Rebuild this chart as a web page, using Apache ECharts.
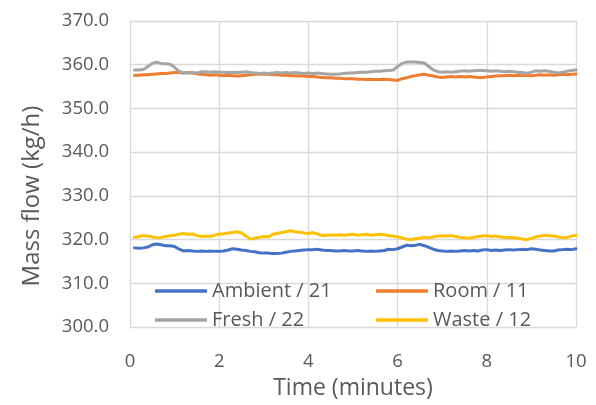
<!DOCTYPE html>
<html>
<head>
<meta charset="utf-8">
<script src="https://cdn.jsdelivr.net/npm/echarts@6/dist/echarts.min.js"></script>
<style>
html,body{margin:0;padding:0;background:#fff;}
#chart{width:596px;height:405px;}
</style>
</head>
<body>
<div id="chart"></div>
<script>
// Time (minutes)
const time = [
  0.1,0.2,0.3,0.4,0.5,0.6,0.7,0.8,0.9,1.0,
  1.1,1.2,1.3,1.4,1.5,1.6,1.7,1.8,1.9,2.0,
  2.1,2.2,2.3,2.4,2.5,2.6,2.7,2.8,2.9,3.0,
  3.1,3.2,3.3,3.4,3.5,3.6,3.7,3.8,3.9,4.0,
  4.1,4.2,4.3,4.4,4.5,4.6,4.7,4.8,4.9,5.0,
  5.1,5.2,5.3,5.4,5.5,5.6,5.7,5.8,5.9,6.0,
  6.1,6.2,6.3,6.4,6.5,6.6,6.7,6.8,6.9,7.0,
  7.1,7.2,7.3,7.4,7.5,7.6,7.7,7.8,7.9,8.0,
  8.1,8.2,8.3,8.4,8.5,8.6,8.7,8.8,8.9,9.0,
  9.1,9.2,9.3,9.4,9.5,9.6,9.7,9.8,9.9,10.0
];
const ambient = [
  318.1,318.0,318.1,318.3,318.8,319.0,318.8,318.6,318.6,318.4,
  317.8,317.4,317.5,317.4,317.3,317.4,317.3,317.4,317.3,317.3,
  317.4,317.6,317.9,317.8,317.6,317.5,317.3,317.2,317.0,316.9,
  316.9,316.8,316.8,316.9,317.1,317.3,317.4,317.5,317.6,317.7,
  317.7,317.8,317.6,317.5,317.5,317.4,317.4,317.5,317.4,317.4,
  317.5,317.4,317.3,317.4,317.3,317.4,317.5,317.8,317.7,317.9,
  318.3,318.7,318.6,318.7,318.9,318.6,318.2,317.8,317.5,317.4,
  317.3,317.4,317.3,317.4,317.5,317.4,317.5,317.4,317.6,317.7,
  317.5,317.6,317.5,317.6,317.7,317.6,317.7,317.8,317.7,317.9,
  317.8,317.6,317.5,317.4,317.4,317.6,317.7,317.8,317.7,317.9
];
const room = [
  357.6,357.6,357.7,357.7,357.8,357.9,358.0,358.0,358.1,358.2,
  358.2,358.1,358.2,358.1,357.9,357.8,357.7,357.6,357.7,357.6,
  357.5,357.6,357.5,357.4,357.5,357.6,357.7,357.8,357.9,357.8,
  357.8,357.7,357.7,357.6,357.6,357.5,357.5,357.4,357.4,357.3,
  357.3,357.2,357.1,357.0,357.0,356.9,356.9,356.8,356.8,356.8,
  356.7,356.7,356.6,356.7,356.6,356.6,356.7,356.6,356.5,356.4,
  356.8,357.0,357.3,357.5,357.7,357.8,357.6,357.4,357.2,357.1,
  357.2,357.3,357.2,357.3,357.2,357.3,357.2,357.1,357.1,357.2,
  357.3,357.4,357.5,357.5,357.6,357.5,357.6,357.5,357.6,357.5,
  357.6,357.7,357.6,357.7,357.6,357.7,357.8,357.7,357.8,357.9
];
const fresh = [
  358.8,358.8,358.9,359.6,360.3,360.6,360.3,360.2,360.1,359.4,
  358.5,358.1,358.1,358.2,358.1,358.4,358.4,358.3,358.4,358.3,
  358.3,358.2,358.3,358.2,358.3,358.4,358.2,358.1,358.0,358.1,
  358.0,358.1,358.2,358.1,358.2,358.1,358.2,358.1,358.0,358.1,
  358.0,358.1,358.0,357.9,357.8,357.8,357.9,358.0,358.1,358.1,
  358.2,358.3,358.3,358.4,358.5,358.5,358.6,358.7,358.8,359.6,
  360.3,360.6,360.6,360.6,360.5,360.4,359.6,358.8,358.4,358.3,
  358.4,358.3,358.4,358.5,358.6,358.5,358.6,358.7,358.7,358.6,
  358.5,358.6,358.5,358.4,358.5,358.4,358.3,358.2,358.0,358.3,
  358.6,358.5,358.6,358.5,358.3,358.1,358.3,358.5,358.7,358.8
];
const waste = [
  320.5,320.7,320.9,320.8,320.6,320.4,320.5,320.7,320.9,321.0,
  321.2,321.4,321.2,321.3,320.9,320.7,320.8,320.7,321.0,321.3,
  321.3,321.5,321.6,321.8,321.5,320.8,320.1,320.3,320.5,320.7,
  320.6,321.2,321.4,321.6,321.8,322.0,321.8,321.7,321.5,321.4,
  321.6,321.3,320.9,321.0,321.1,321.0,321.1,321.0,321.1,321.2,
  321.0,321.1,321.2,321.0,321.1,321.2,321.1,320.9,320.8,320.6,
  320.4,320.1,320.0,320.2,320.3,320.5,320.4,320.6,320.8,320.9,
  320.8,320.9,320.7,320.5,320.4,320.3,320.5,320.7,320.8,320.9,
  320.7,320.8,320.6,320.5,320.5,320.4,320.3,320.1,320.0,320.3,
  320.6,320.8,321.0,320.9,320.8,320.6,320.4,320.5,320.8,321.0
];
const seriesNames = ['Ambient / 21','Room / 11','Fresh / 22','Waste / 12'];
const seriesColors = ['#4472C4','#ED7D31','#A5A5A5','#FFC000'];
const seriesData = [ambient, room, fresh, waste];
const yMin = 300, yMax = 370, yStep = 10;
const xMin = 0, xMax = 10, xStep = 2;

const FONT = 'Open Sans';
const TXT = '#595959';
const GRID = '#D9D9D9';

const chart = echarts.init(document.getElementById('chart'), null, {renderer:'canvas'});
chart.setOption({
  animation: false,
  backgroundColor: '#ffffff',
  grid: {left:130, right:20, top:21, bottom:72, containLabel:false},
  xAxis: {
    type:'value', min:xMin, max:xMax, interval:xStep,
    name:'Time (minutes)', nameLocation:'middle', nameGap:50,
    nameTextStyle:{fontFamily:FONT, fontSize:23, color:TXT},
    axisLine:{show:false}, axisTick:{show:false},
    axisLabel:{fontFamily:FONT, fontSize:18.5, color:TXT, margin:25},
    splitLine:{show:true, lineStyle:{color:GRID, width:1.3}}
  },
  yAxis: {
    type:'value', min:yMin, max:yMax, interval:yStep,
    name:'Mass flow (kg/h)', nameLocation:'middle', nameGap:86,
    nameTextStyle:{fontFamily:FONT, fontSize:24, color:TXT, padding:[0,44,0,0]},
    axisLine:{show:false}, axisTick:{show:false},
    axisLabel:{fontFamily:FONT, fontSize:18.5, color:TXT, margin:21, formatter:v=>v.toFixed(1)},
    splitLine:{show:true, lineStyle:{color:GRID, width:1.3}}
  },
  legend: [
    {data:[seriesNames[0], seriesNames[2]], orient:'vertical', left:150, top:276,
     icon:'rect', itemWidth:52, itemHeight:3.5, itemGap:9,
     textStyle:{fontFamily:FONT, fontSize:20, color:TXT, lineHeight:20}},
    {data:[seriesNames[1], seriesNames[3]], orient:'vertical', left:371, top:276,
     icon:'rect', itemWidth:52, itemHeight:3.5, itemGap:9,
     textStyle:{fontFamily:FONT, fontSize:20, color:TXT, lineHeight:20}}
  ],
  series: seriesNames.map((n,i)=>({
    name:n, type:'line', showSymbol:false, symbol:'none', smooth:false,
    color:seriesColors[i],
    lineStyle:{width:3, color:seriesColors[i], cap:'round', join:'round'},
    data: time.map((t,k)=>[t, seriesData[i][k]])
  }))
});
</script>
</body>
</html>
